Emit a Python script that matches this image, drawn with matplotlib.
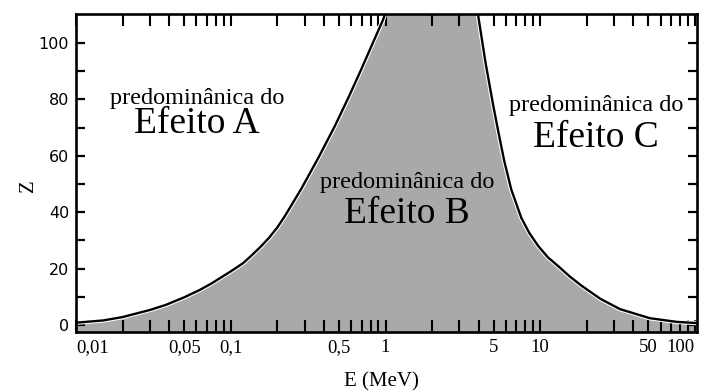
import numpy as np
import matplotlib
matplotlib.use("Agg")
import matplotlib.pyplot as plt
from matplotlib.ticker import FixedLocator, FixedFormatter, NullFormatter

# boundary where effect A and effect B are equally likely (E in MeV, Z)
left_E = [0.01, 0.015, 0.02, 0.03, 0.038, 0.05, 0.063, 0.075, 0.1, 0.12,
          0.136, 0.155, 0.176, 0.2, 0.223, 0.25, 0.287, 0.37, 0.47, 0.58,
          0.695, 0.84, 0.96, 1.02]
left_Z = [0.8, 1.6, 2.8, 5.3, 7.1, 9.8, 12.4, 14.7, 19.0, 21.9,
          24.6, 27.6, 30.8, 34.6, 38.5, 43.0, 48.5, 59.5, 70.5, 81.0,
          90.5, 100.8, 108.0, 112.0]

# boundary where effect B and effect C are equally likely
right_E = [3.9, 3.99, 4.43, 4.98, 5.36, 5.86, 6.5, 7.54, 8.5, 9.7,
           11.2, 13.1, 15.5, 18.4, 24.4, 32.8, 51.0, 76.0, 100.0, 110.0]
right_Z = [112.4, 109.0, 93.0, 77.5, 68.5, 58.0, 48.0, 38.0, 32.6, 28.0,
           24.0, 20.8, 17.2, 14.0, 9.3, 5.6, 2.4, 1.1, 0.7, 0.6]

x_ticks = [0.01, 0.05, 0.1, 0.5, 1, 5, 10, 50, 100]
x_labels = ["0,01", "0,05", "0,1", "0,5", "1", "5", "10", "50", "100"]
x_minor = [m * d for d in [0.01, 0.1, 1, 10] for m in range(2, 10) if m != 5]
y_ticks = [0, 20, 40, 60, 80, 100]
y_minor = [10, 30, 50, 70, 90]

regions = [
    ("predominânica do", "Efeito A", 197, 104, 133),
    ("predominânica do", "Efeito B", 407, 188, 223),
    ("predominânica do", "Efeito C", 596, 111, 147),
]

W, H = 704, 392
fig = plt.figure(figsize=(W / 100, H / 100), dpi=100)
ax = fig.add_axes([76 / W, 1 - 332 / H, (697 - 76) / W, (332 - 14) / H])
ax.set_xscale("log")
ax.set_xlim(0.01, 103)
ax.set_ylim(-2.5, 110.3)

floor = -10
poly_E = left_E + right_E + [right_E[-1], left_E[0]]
poly_Z = left_Z + right_Z + [floor, floor]
ax.fill(poly_E, poly_Z, color="#a9a9a9", lw=0, zorder=1)
for xs, ys in [(left_E, left_Z), (right_E, right_Z)]:
    ax.plot(xs, ys, color="white", lw=3.2, zorder=2, solid_joinstyle="round")
    ax.plot(xs, ys, color="black", lw=1.7, zorder=3, solid_joinstyle="round")

for s in ax.spines.values():
    s.set_linewidth(1.9)
    s.set_zorder(5)

ax.xaxis.set_major_locator(FixedLocator(x_ticks))
ax.xaxis.set_major_formatter(FixedFormatter(x_labels))
ax.xaxis.set_minor_locator(FixedLocator(x_minor))
ax.xaxis.set_minor_formatter(NullFormatter())
ax.yaxis.set_major_locator(FixedLocator(y_ticks))
ax.yaxis.set_minor_locator(FixedLocator(y_minor))

ax.tick_params(axis="x", which="both", direction="in", length=8.5, width=1.5,
               top=True, pad=5)
ax.tick_params(axis="y", which="both", direction="in", length=6.5, width=1.6,
               right=True, pad=5)
for lab in ax.get_xticklabels():
    lab.set_fontfamily("Liberation Serif")
    lab.set_fontsize(13.5)
for lab in ax.get_yticklabels():
    lab.set_fontfamily("DejaVu Sans")
    lab.set_fontsize(11.5)
xt = ax.xaxis.get_major_ticks()
xt[0].label1.set_horizontalalignment("left")
xt[-1].label1.set_horizontalalignment("right")

for small, big, cx, y1, y2 in regions:
    fig.text(cx / W, 1 - y1 / H, small, ha="center", va="baseline",
             family="Liberation Serif", fontsize=17.5, zorder=6)
    fig.text(cx / W, 1 - y2 / H, big, ha="center", va="baseline",
             family="Liberation Serif", fontsize=27, zorder=6)

fig.text(29 / W, 1 - 186 / H, "Z", rotation=90, ha="center", va="center",
         family="Liberation Serif", fontsize=15)
fig.text(381 / W, 1 - 382 / H, "E (MeV)", ha="center", va="center",
         family="Liberation Serif", fontsize=15)

fig.savefig("out.png", dpi=100)
